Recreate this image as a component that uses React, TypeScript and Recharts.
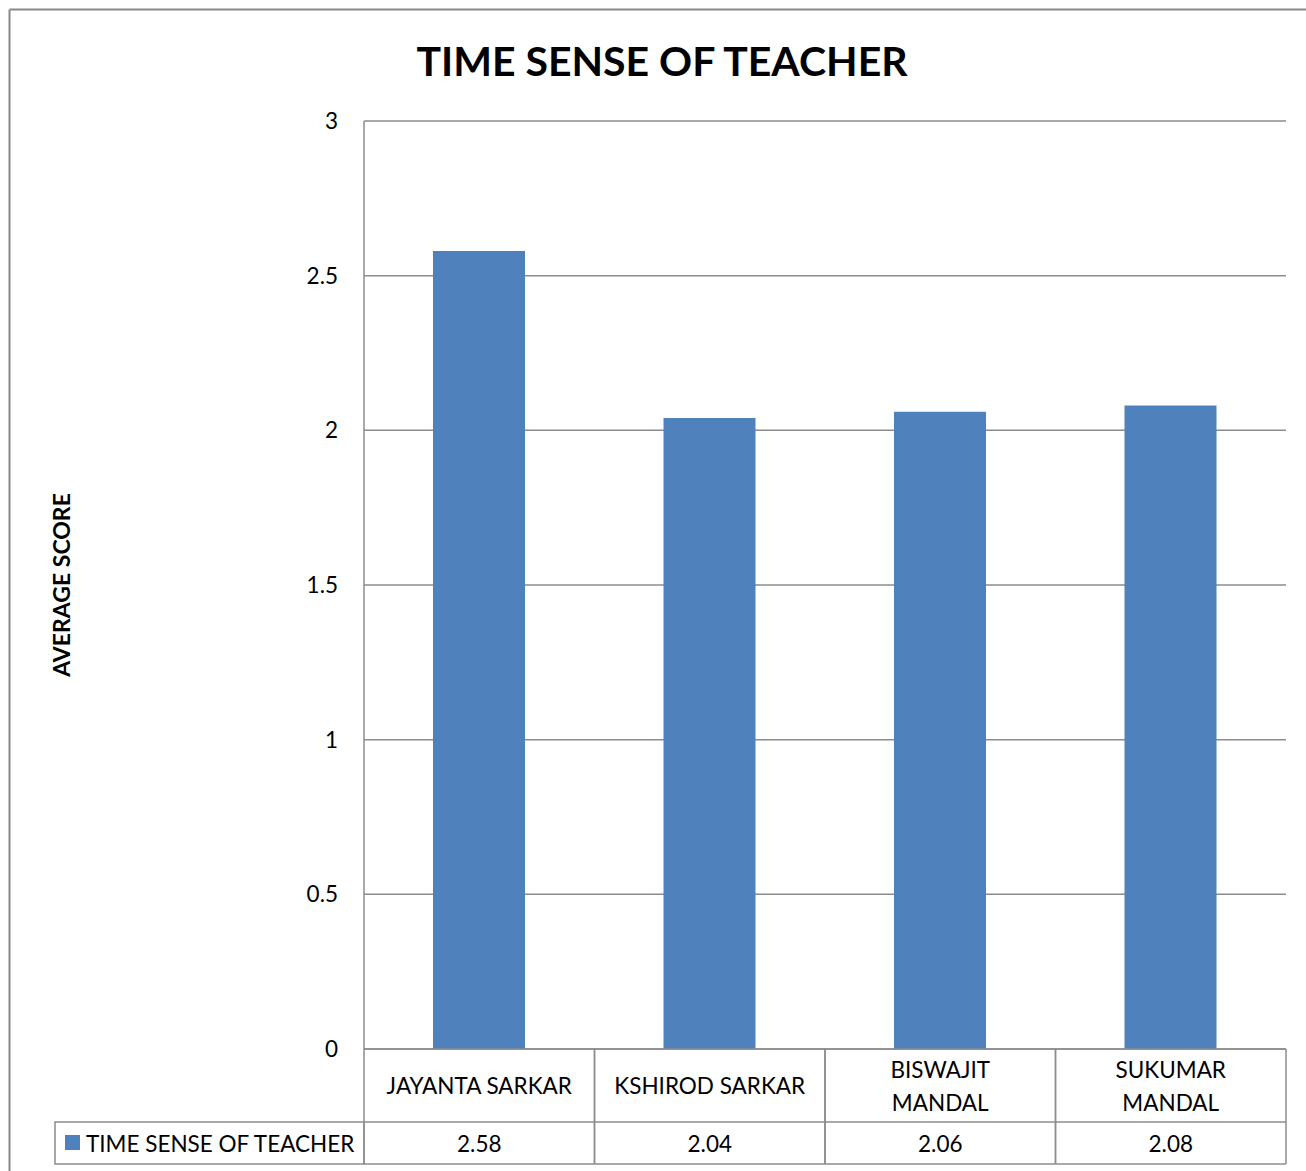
import React from "react";
import { BarChart, Bar, XAxis, YAxis, CartesianGrid } from "recharts";

const categories = ["JAYANTA SARKAR", "KSHIROD SARKAR", "BISWAJIT MANDAL", "SUKUMAR MANDAL"];
const categoryLines = [["JAYANTA SARKAR"], ["KSHIROD SARKAR"], ["BISWAJIT", "MANDAL"], ["SUKUMAR", "MANDAL"]];
const values = [2.58, 2.04, 2.06, 2.08];
const yTicks = [0, 0.5, 1, 1.5, 2, 2.5, 3];
const seriesName = "TIME SENSE OF TEACHER";
const title = "TIME SENSE OF TEACHER";
const yLabel = "AVERAGE SCORE";

const data = categories.map((c, i) => ({ name: c, value: values[i] }));

const W = 1306;
const H = 1171;
const PL = 364;
const PR = 1286;
const PT = 121;
const PB = 1049;
const ROW1 = 1122;
const ROW2 = 1164;
const LEG_L = 55;
const CAT_W = (PR - PL) / categories.length;
const FONT = "Lato, 'Open Sans', sans-serif";
const GRID = "#8c8c8c";
const BLUE = "#4F81BD";
const FS = 22.5;

const TableTick = (props: any) => {
  const { x, index } = props;
  const lines = categoryLines[index] || [categories[index]];
  const left = x - CAT_W / 2;
  const right = x + CAT_W / 2;
  const midY = (PB + ROW1) / 2;
  return (
    <g>
      <line x1={left} y1={PB} x2={left} y2={ROW2} stroke={GRID} strokeWidth={1.5} />
      <line x1={right} y1={PB} x2={right} y2={ROW2} stroke={GRID} strokeWidth={1.5} />
      <line x1={left} y1={ROW1} x2={right} y2={ROW1} stroke={GRID} strokeWidth={1.5} />
      <line x1={left} y1={ROW2} x2={right} y2={ROW2} stroke={GRID} strokeWidth={1.5} />
      {lines.map((l: string, i: number) => (
        <text
          key={i}
          x={x}
          y={midY + (i - (lines.length - 1) / 2) * 33}
          textAnchor="middle"
          dominantBaseline="central"
          fontSize={FS}
          fontFamily={FONT}
          fill="#000"
        >
          {l}
        </text>
      ))}
      <text
        x={x}
        y={(ROW1 + ROW2) / 2}
        textAnchor="middle"
        dominantBaseline="central"
        fontSize={FS}
        fontFamily={FONT}
        fill="#000"
      >
        {values[index].toFixed(2)}
      </text>
      {index === 0 && (
        <g>
          <rect x={LEG_L} y={ROW1} width={PL - LEG_L} height={ROW2 - ROW1} fill="none" stroke={GRID} strokeWidth={1.5} />
          <rect x={65} y={1135} width={15} height={15} fill={BLUE} />
          <text x={86} y={(ROW1 + ROW2) / 2} dominantBaseline="central" fontSize={FS} fontFamily={FONT} fill="#000">
            {seriesName}
          </text>
        </g>
      )}
    </g>
  );
};

export default function App() {
  return (
    <div style={{ position: "absolute", left: 0, top: 0, width: W, height: H, overflow: "hidden", background: "#fff" }}>
      <BarChart
        width={W}
        height={H}
        data={data}
        margin={{ top: PT, right: W - PR, bottom: 0, left: 0 }}
        barSize={92}
      >
        <CartesianGrid horizontal={true} vertical={false} stroke={GRID} strokeWidth={1.5} />
        <XAxis
          dataKey="name"
          axisLine={{ stroke: GRID, strokeWidth: 1.5 }}
          tickLine={false}
          tick={<TableTick />}
          interval={0}
          height={H - PB}
        />
        <YAxis
          domain={[0, 3]}
          ticks={yTicks}
          axisLine={{ stroke: GRID, strokeWidth: 1.5 }}
          tickLine={false}
          tick={{ fontSize: FS, fontFamily: FONT, fill: "#000" }}
          tickMargin={20}
          width={PL}
        />
        <Bar dataKey="value" fill={BLUE} isAnimationActive={false} />
      </BarChart>
      <svg width={W} height={H} style={{ position: "absolute", left: 0, top: 0, pointerEvents: "none" }}>
        <line x1={9.5} y1={9.5} x2={W} y2={9.5} stroke="#888" strokeWidth={2} />
        <line x1={9.5} y1={9.5} x2={9.5} y2={H} stroke="#888" strokeWidth={2} />
        <text x={662} y={60} textAnchor="middle" dominantBaseline="central" fontSize={41} fontWeight="bold" fontFamily={FONT} fill="#000">
          {title}
        </text>
        <text
          x={61}
          y={585}
          textAnchor="middle"
          dominantBaseline="central"
          fontSize={23}
          fontWeight="bold"
          fontFamily={FONT}
          fill="#000"
          transform="rotate(-90 61 585)"
        >
          {yLabel}
        </text>
      </svg>
    </div>
  );
}
